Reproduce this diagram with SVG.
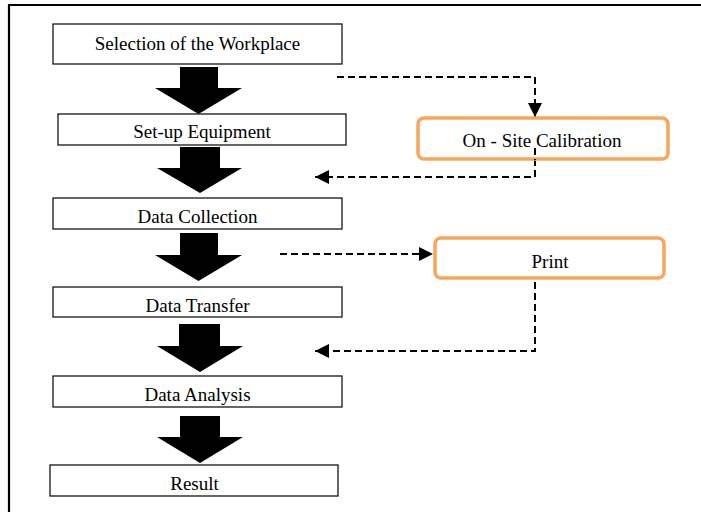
<svg xmlns="http://www.w3.org/2000/svg" width="701" height="512" viewBox="0 0 701 512">
<style>
.box{fill:#fff;stroke:#000;stroke-width:1.2}
.obox{fill:#fff;stroke:#F9A65A;stroke-width:3.5}
.t{font-family:"Liberation Serif","Times New Roman",serif;font-size:19px;fill:#000;text-anchor:middle}
.big{fill:#000}
.dash{fill:none;stroke:#000;stroke-width:2;stroke-dasharray:7 4}
</style>
<defs>
<marker id="ah" markerWidth="15" markerHeight="14" refX="14" refY="7" orient="auto" markerUnits="userSpaceOnUse">
<path d="M0,0 L14,7 L0,14 z" fill="#000"/>
</marker>
</defs>
<rect width="701" height="512" fill="#fff"/>
<path d="M9,512 V5 H701" fill="none" stroke="#000" stroke-width="2.2"/>
<g id="connectors">
<path class="big" d="M180,67 H218 V88 H242 L198.5,114 L155,88 H180 z"/>
<path class="big" d="M180,147 H220 V168 H242 L200,193 L157,168 H180 z"/>
<path class="big" d="M180,233 H218 V255 H242 L198.5,281 L155,255 H180 z"/>
<path class="big" d="M179,324 H220 V346 H243 L200,372 L157,346 H179 z"/>
<path class="big" d="M180,416 H220 V437 H243 L200,463 L157,437 H180 z"/>
<path class="dash" d="M337,77 H535 V117" marker-end="url(#ah)"/>
<path class="dash" d="M535,148 V177 H315" marker-end="url(#ah)"/>
<path class="dash" d="M280,254 H433" marker-end="url(#ah)"/>
<path class="dash" d="M535,282 V351 H315" marker-end="url(#ah)"/>
</g>
<g id="n1"><rect class="box" x="53" y="24" width="289" height="40"/><text class="t" x="197.5" y="50">Selection of the Workplace</text></g>
<g id="n2"><rect class="box" x="58" y="114" width="288" height="31"/><text class="t" x="202" y="138">Set-up Equipment</text></g>
<g id="n3"><rect class="box" x="53" y="198" width="289" height="31"/><text class="t" x="197.5" y="223">Data Collection</text></g>
<g id="n4"><rect class="box" x="53" y="287" width="289" height="30"/><text class="t" x="197.5" y="312">Data Transfer</text></g>
<g id="n5"><rect class="box" x="53" y="376" width="289" height="31"/><text class="t" x="197.5" y="401">Data Analysis</text></g>
<g id="n6"><rect class="box" x="50" y="465" width="288" height="31"/><text class="t" x="194.5" y="490">Result</text></g>
<g id="n7"><rect class="obox" x="418" y="118" width="250" height="41" rx="6"/><text class="t" x="542" y="147">On - Site Calibration</text></g>
<path d="M535,148 V160" class="dash"/>
<g id="n8"><rect class="obox" x="435" y="238" width="229" height="40" rx="6"/><text class="t" x="550" y="268">Print</text></g>
</svg>
